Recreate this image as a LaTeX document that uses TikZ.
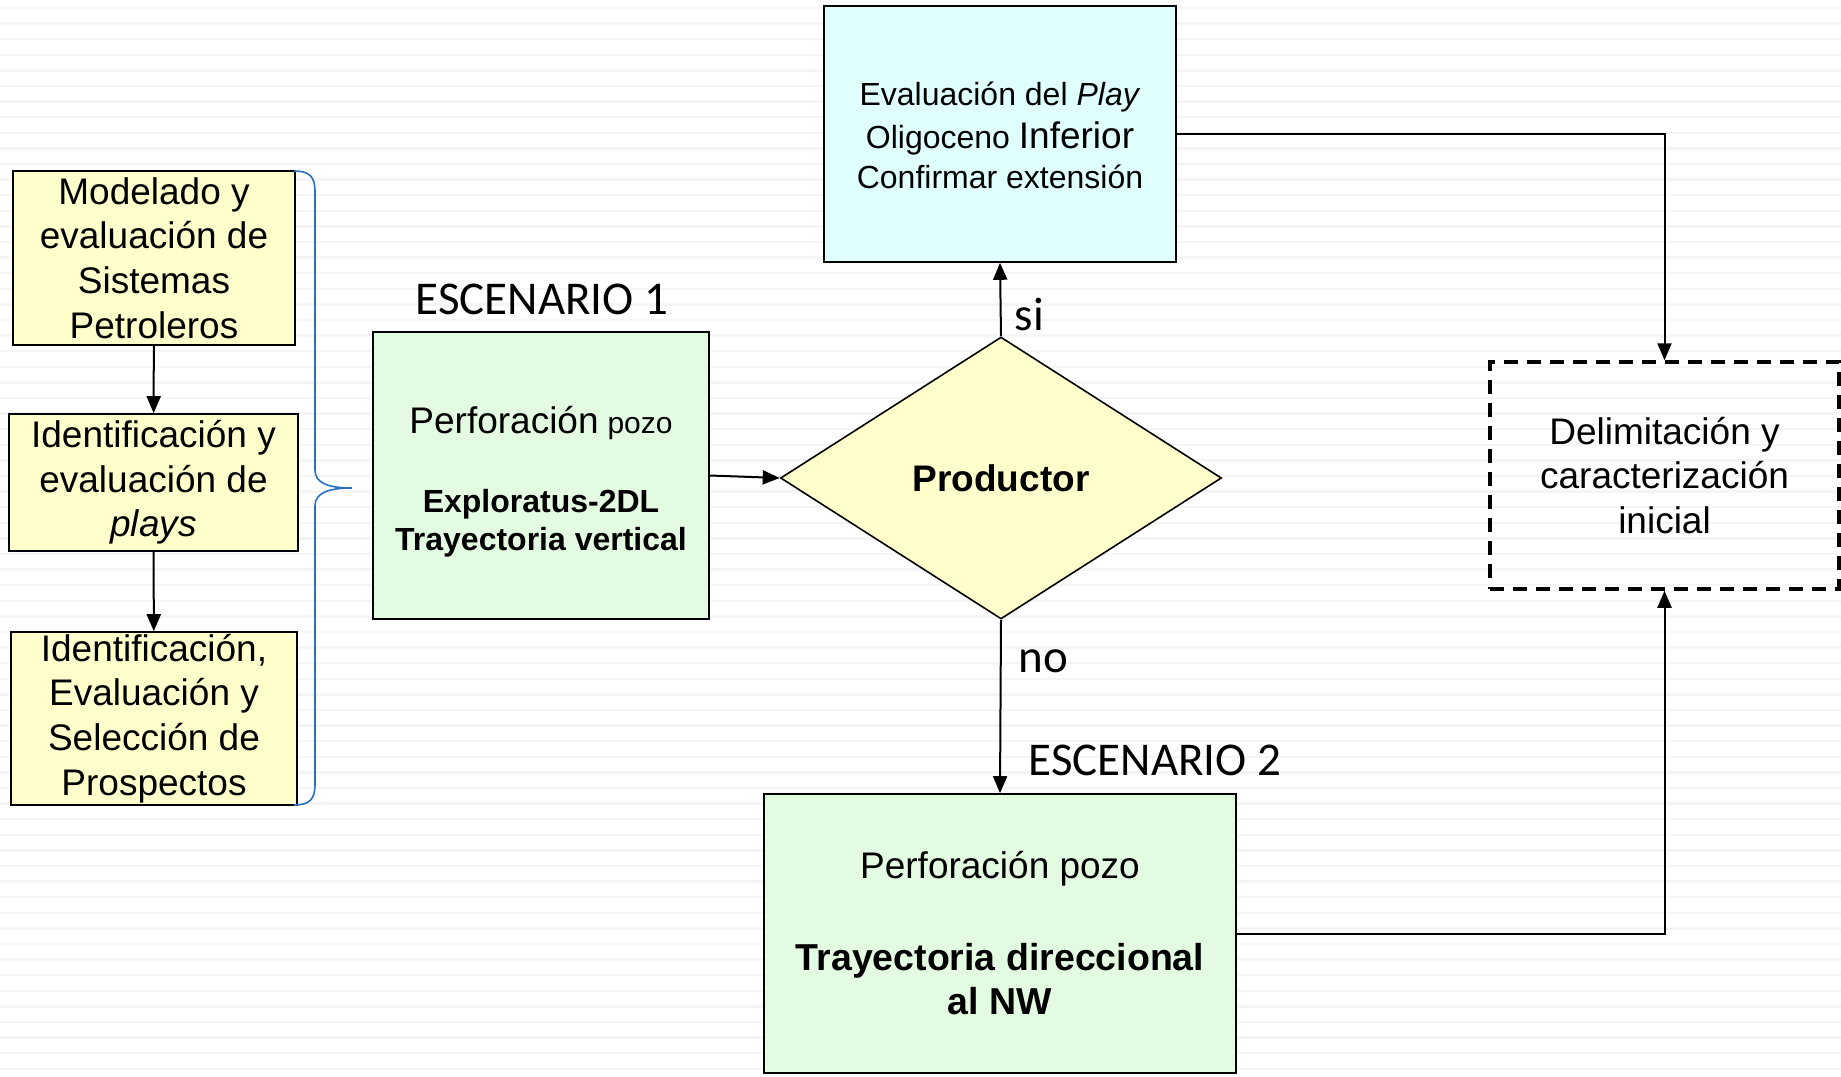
\documentclass[tikz,border=0pt]{standalone}
\usepackage{fontspec}
\setmainfont{Liberation Sans}
\newfontfamily\calibri{Carlito}
\usepackage{tikz}
\usetikzlibrary{arrows.meta,positioning,shapes.geometric}

\definecolor{amarillo}{HTML}{FFFFCC}
\definecolor{verdeclaro}{HTML}{E3FBE1}
\definecolor{cianclaro}{HTML}{E0FFFF}
\definecolor{llave}{RGB}{41,112,192}

\begin{document}
\begin{tikzpicture}[
  x=1pt, y=-1pt,
  stripe/.style={line width=2.5pt, black!4},
  paso/.style={rectangle, draw=black, line width=1.6pt, fill=amarillo, inner sep=0pt, align=center, font=\fontsize{37}{44.6}\selectfont},
  pozo/.style={rectangle, draw=black, line width=1.6pt, fill=verdeclaro, inner sep=0pt, align=center},
  decision/.style={diamond, draw=black, line width=1.6pt, fill=amarillo, inner sep=0pt, font=\fontsize{37}{44}\selectfont\bfseries},
  meta/.style={rectangle, draw=black, line width=3.5pt, dash pattern=on 14pt off 9pt, inner sep=0pt, align=center, font=\fontsize{37}{44.6}\selectfont},
  escenario/.style={font=\calibri\fontsize{47}{56}\selectfont, inner sep=0pt, anchor=base},
  flow/.style={-{Triangle[length=17pt, width=14pt]}, line width=2pt}
]
\useasboundingbox (0,0) rectangle (1841,1076);
% fondo rayado
\foreach \i in {0,...,68}
  \draw[stripe] (0,{8+15.6*\i}) -- (1841,{8+15.6*\i});

% columna izquierda
\node[paso, minimum width=282pt, minimum height=174pt] (modelado) at (154,258)
  {Modelado y\\evaluación de\\Sistemas\\Petroleros};
\node[paso, minimum width=289pt, minimum height=137pt] (plays) at (153.5,482.5)
  {Identificación y\\evaluación de\\\textit{plays}};
\node[paso, minimum width=286pt, minimum height=173pt] (prospectos) at (154,718.5)
  {Identificación,\\Evaluación y\\Selección de\\Prospectos};

\draw[flow] (modelado) -- (plays);
\draw[flow] (plays) -- (prospectos);

% llave
\draw[llave, line width=1.6pt] (294,171) .. controls (310,171) and (315,177) .. (315,192)
  -- (315,470) .. controls (315,483) and (328,488) .. (352,488)
  .. controls (328,488) and (315,493) .. (315,506)
  -- (315,784) .. controls (315,799) and (310,805) .. (294,805);

% escenarios
\node[pozo, minimum width=336pt, minimum height=287pt, font=\fontsize{32}{38}\selectfont] (vertical) at (541,475.5)
  {\rule{0pt}{40pt}{\fontsize{37}{44}\selectfont Perforación} {\fontsize{30}{36}\selectfont pozo}\\[41pt]\textbf{Exploratus-2DL}\\\textbf{Trayectoria vertical}};
\node[escenario] (esc1) at (542,314) {ESCENARIO 1};

\node[decision, minimum width=441pt, minimum height=282pt] (productor) at (1001,478) {Productor};

\node[rectangle, draw=black, line width=1.6pt, fill=cianclaro, inner sep=0pt, align=center,
  minimum width=352pt, minimum height=256pt, font=\fontsize{32}{40}\selectfont] (extension) at (1000,134)
  {\rule{0pt}{26pt}Evaluación del \textit{Play}\\[3pt]Oligoceno {\fontsize{37}{44}\selectfont Inferior}\\Confirmar extensión};

\node[pozo, minimum width=472pt, minimum height=279pt, font=\fontsize{37.5}{44.5}\selectfont] (direccional) at (1000,933.5)
  {{\fontsize{37}{44}\selectfont Perforación pozo}\\[47pt]\textbf{Trayectoria direccional}\\\textbf{al NW}};
\node[escenario] (esc2) at (1155,775) {ESCENARIO 2};

\node[meta, minimum width=349pt, minimum height=227pt] (delimitacion) at (1664.5,475.5)
  {Delimitación y\\caracterización\\inicial};

% conexiones
\draw[flow] (vertical.east) -- (productor.west);
\draw[flow] (productor.north) -- node[pos=0.3, right, font=\calibri\fontsize{47}{56}\selectfont, inner sep=13pt] (si) {si} (extension.south);
\draw[flow] (productor.south) -- node[pos=0.24, right, font=\calibri\fontsize{47}{56}\selectfont, inner sep=17pt] (no) {no} (direccional.north);
\draw[flow] (extension.east) -| (delimitacion.north);
\draw[flow] (direccional.east) -| (delimitacion.south);
\end{tikzpicture}
\end{document}
